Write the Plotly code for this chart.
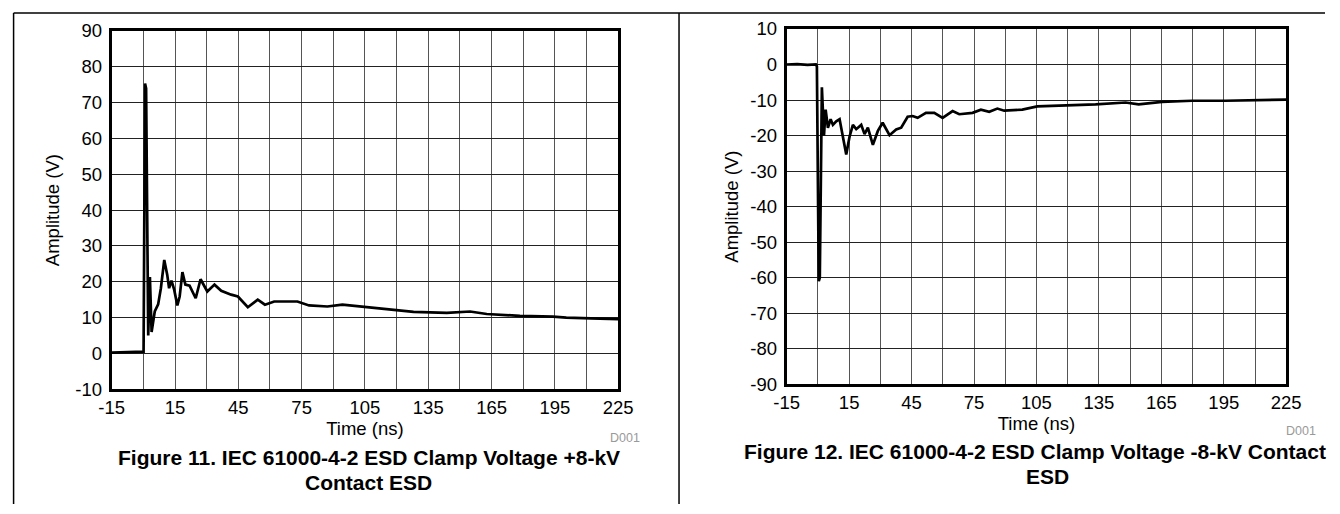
import plotly.graph_objects as go

# ---- data ----
t_pos = [-15, -10, -5, -2, 0.1, 0.8, 1.3, 2.3, 3.1, 3.9, 5.4, 7.0, 8.3, 9.9, 11.3, 12.2, 13.3,
         14.6, 16.1, 17.2, 18.5, 19.9, 21.9, 24.8, 27.1, 30.3, 33.7, 36.9, 41.6, 44.8, 49.5,
         54.2, 57.6, 62, 66.7, 73, 78.5, 87.2, 94.3, 106, 114.7, 121.8, 128, 143.8, 154.8,
         162.7, 178.4, 194.1, 200.4, 212, 225]
v_pos = [0.2, 0.3, 0.2, 0.3, 0.5, 75.3, 74, 5, 21.3, 6, 11.7, 13.7, 18.2, 26.1, 22, 18.2, 20.3,
         17.8, 13.4, 15.9, 22.7, 19.2, 18.9, 15.4, 20.7, 17.3, 19.2, 17.5, 16.4, 15.9, 12.9,
         15, 13.6, 14.5, 14.5, 14.5, 13.4, 13.1, 13.6, 12.9, 12.4, 11.9, 11.6, 11.3, 11.7,
         11, 10.5, 10.3, 10, 9.8, 9.6]

t_neg = [-15, -10, -5, -1, -0.5, 0.4, 0.9, 1.9, 2.9, 3.7, 4.8, 6.1, 7.2, 8.8, 10.4, 11.2, 13.6,
         15.2, 16.8, 18.4, 20.8, 22.4, 24, 26.4, 28.8, 31.1, 34.4, 37.6, 40, 43.1, 45.5, 47.9,
         51.9, 55.9, 59.9, 64.7, 67.9, 74.3, 78.3, 82.3, 86.2, 89.5, 98.2, 105.4, 119, 133.4,
         147.8, 154.1, 165.3, 179.7, 195.7, 210.1, 225]
v_neg = [0, 0.1, -0.1, 0, -0.5, -61, -60, -6.4, -20, -12.7, -17.8, -15.4, -17, -16, -15.4, -17.8,
         -25.3, -20.3, -17, -18.2, -17, -19.6, -17.8, -22.6, -18.7, -16.4, -19.9, -18.3, -17.8,
         -14.7, -14.5, -15, -13.6, -13.6, -15, -13.1, -14, -13.6, -12.7, -13.3, -12.4, -13.0,
         -12.7, -11.8, -11.6, -11.2, -10.7, -11.2, -10.5, -10.2, -10.2, -10, -9.9]

x_ticks = list(range(-15, 226, 15))
x_ticktext = [str(v) if (v + 15) % 30 == 0 else "" for v in x_ticks]
y_ticks_pos = list(range(-10, 91, 10))
y_ticks_neg = list(range(-90, 11, 10))

W, H = 1340, 514
FONT = "Liberation Sans, Arial, sans-serif"
TICK = 18.5

# layout helpers: map reference pixel positions to paper coordinates
OX, SX, OY, SY = 11.0, 0.982, 9.0, 0.961
def PX(x):
    return max(0.0, (x - OX) / SX) / W
def PY(y):
    return 1 - max(0.0, (y - OY) / SY) / H

fig = go.Figure()
fig.add_trace(go.Scatter(x=t_pos, y=v_pos, mode="lines", line=dict(color="black", width=2.7),
                         xaxis="x", yaxis="y", showlegend=False))
fig.add_trace(go.Scatter(x=t_neg, y=v_neg, mode="lines", line=dict(color="black", width=2.7),
                         xaxis="x2", yaxis="y2", showlegend=False))

def xax(domain, anchor):
    return dict(domain=domain, anchor=anchor, range=[-15, 225], tickmode="array",
                tickvals=x_ticks, ticktext=x_ticktext, showgrid=True, gridcolor="#555",
                gridwidth=1, showline=True, linecolor="black", linewidth=3, mirror=True,
                ticks="", zeroline=False, ticklabelstandoff=0,
                tickfont=dict(size=TICK, color="black", family=FONT),
                title=dict(text="Time (ns)", font=dict(size=TICK, color="black", family=FONT), standoff=0))

def yax(domain, anchor, rng, vals, standoff):
    return dict(domain=domain, anchor=anchor, range=rng, tickmode="array", tickvals=vals,
                ticktext=[str(v) for v in vals],
                showgrid=True, gridcolor="#222", gridwidth=1, showline=True, linecolor="black",
                linewidth=3, mirror=True, ticks="", zeroline=False, ticklabelstandoff=3,
                tickfont=dict(size=TICK, color="black", family=FONT),
                title=dict(text="Amplitude (V)", font=dict(size=TICK, color="black", family=FONT), standoff=standoff))

fig.update_layout(
    width=W, height=H, margin=dict(l=0, r=0, t=0, b=0),
    paper_bgcolor="white", plot_bgcolor="white",
    font=dict(family=FONT, color="black"),
    xaxis=xax([PX(110), PX(618)], "y"),
    yaxis=yax([PY(388), PY(29)], "x", [-10, 90], y_ticks_pos, 11),
    xaxis2=xax([PX(787), PX(1288)], "y2"),
    yaxis2=yax([PY(383), PY(27)], "x2", [-90, 10], y_ticks_neg, 7),
)

# panel frame lines
line_style = dict(color="black", width=1.5)
fig.add_shape(type="line", xref="paper", yref="paper", x0=0.6 / W, x1=1, y0=PY(11), y1=PY(11), line=line_style)
fig.add_shape(type="line", xref="paper", yref="paper", x0=0.6 / W, x1=0.6 / W, y0=0, y1=PY(11), line=line_style)
fig.add_shape(type="line", xref="paper", yref="paper", x0=PX(679), x1=PX(679), y0=0, y1=PY(11), line=line_style)

def ann(x, y, text, size, bold=False, color="black", xanchor="center"):
    fig.add_annotation(xref="paper", yref="paper", x=PX(x), y=PY(y), text=(f"<b>{text}</b>" if bold else text),
                       showarrow=False, xanchor=xanchor, yanchor="middle",
                       font=dict(size=size, color=color, family=FONT))

ann(625, 437, "D001", 12.5, color="#999")
ann(1303, 430, "D001", 12.5, color="#999")
ann(368, 456, "Figure 11. IEC 61000-4-2 ESD Clamp Voltage +8-kV", 21, bold=True)
ann(368, 481, "Contact ESD", 21, bold=True)
ann(1036, 450, "Figure 12. IEC 61000-4-2 ESD Clamp Voltage -8-kV Contact", 21, bold=True)
ann(1049, 475, "ESD", 21, bold=True)

fig.write_html("out.html", config={"displayModeBar": False},
               post_script="document.body.style.margin='0';document.body.style.overflow='hidden';")
